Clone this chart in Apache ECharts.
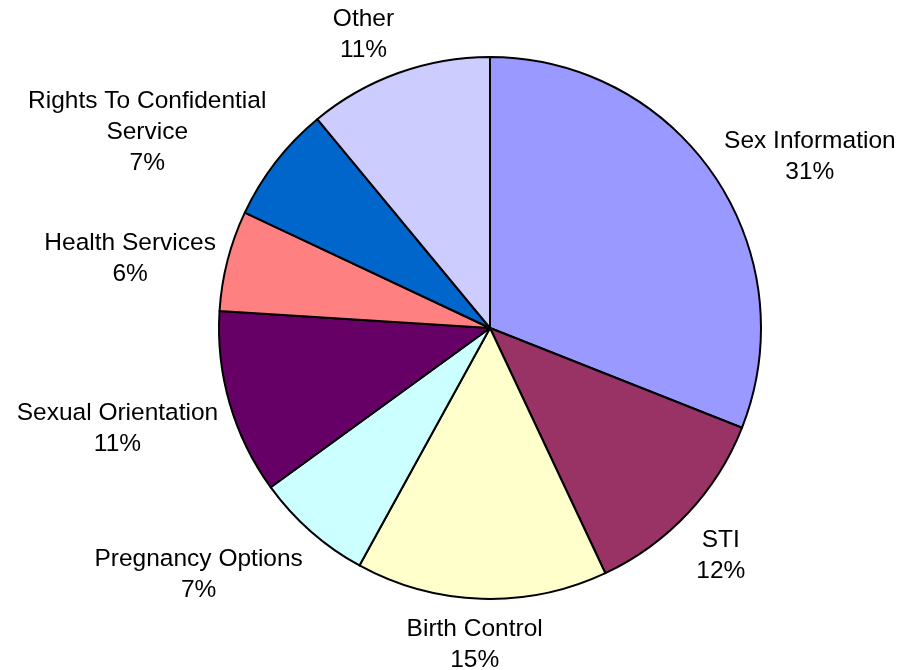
<!DOCTYPE html>
<html>
<head>
<meta charset="utf-8">
<title>Topics</title>
<script src="https://cdn.jsdelivr.net/npm/echarts@6/dist/echarts.min.js"></script>
<style>
  html, body { margin: 0; padding: 0; background: #ffffff; }
  #chart { width: 904px; height: 670px; }
</style>
</head>
<body>
<div id="chart"></div>
<script>
// Topic shares (percent of total)
const categories = [
  'Sex Information',
  'STI',
  'Birth Control',
  'Pregnancy Options',
  'Sexual Orientation',
  'Health Services',
  'Rights To Confidential Service',
  'Other'
];
const shares = [31, 12, 15, 7, 11, 6, 7, 11];
const sliceColors = ['#9999FF', '#993366', '#FFFFCC', '#CCFFFF', '#660066', '#FF8080', '#0066CC', '#CCCCFF'];

// Pie geometry
const CX = 490, CY = 328, R = 271;
const LABEL_GAP = 12;
const LABEL_DROP = 3;

const total = shares.reduce((a, b) => a + b, 0);
const midAngles = [];
let acc = 0;
shares.forEach(v => {
  midAngles.push(2 * Math.PI * (acc + v / 2) / total);
  acc += v;
});

function wrapName(name) {
  if (name.length <= 22) return name;
  const cut = name.lastIndexOf(' ', 22);
  return name.slice(0, cut) + '\n' + name.slice(cut + 1);
}

const clamp = v => Math.max(-1, Math.min(1, v));

const chart = echarts.init(document.getElementById('chart'), null, { renderer: 'canvas' });

chart.setOption({
  backgroundColor: '#ffffff',
  animation: false,
  series: [{
    type: 'pie',
    center: [CX, CY],
    radius: R,
    startAngle: 90,
    clockwise: true,
    avoidLabelOverlap: false,
    data: categories.map((name, i) => ({
      name: name,
      value: shares[i],
      itemStyle: { color: sliceColors[i] }
    })),
    itemStyle: { borderColor: '#000000', borderWidth: 2 },
    emphasis: { disabled: true },
    label: {
      show: true,
      position: 'outside',
      color: '#000000',
      fontFamily: '"Liberation Sans", Arial, sans-serif',
      fontSize: 24.5,
      lineHeight: 31,
      align: 'center',
      formatter: p => wrapName(p.name) + '\n' + Math.round(p.percent) + '%'
    },
    labelLine: { show: false },
    // Place each label just outside the rim, offset by its own box size
    labelLayout: function (params) {
      const a = midAngles[params.dataIndex];
      const dx = Math.sin(a), dy = -Math.cos(a);
      const hw = params.labelRect.width / 2;
      const hh = params.labelRect.height / 2;
      const px = CX + (R + LABEL_GAP) * dx;
      const py = CY + (R + LABEL_GAP) * dy;
      return {
        x: px + hw * clamp(3 * dx),
        y: py + hh * clamp(1.3 * dy + 0.25) + LABEL_DROP,
        align: 'center',
        verticalAlign: 'middle'
      };
    }
  }]
});
</script>
</body>
</html>
